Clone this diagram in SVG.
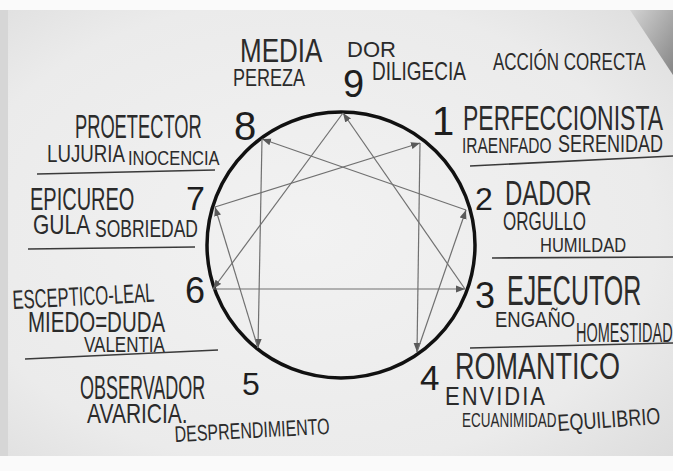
<svg xmlns="http://www.w3.org/2000/svg" width="673" height="471" viewBox="0 0 673 471">
<defs>
<radialGradient id="paper" cx="0.45" cy="0.5" r="0.75">
<stop offset="0" stop-color="#f2f2f2"/>
<stop offset="0.7" stop-color="#ebebeb"/>
<stop offset="1" stop-color="#dcdcdc"/>
</radialGradient>
<linearGradient id="corner" x1="0" y1="0" x2="1" y2="1">
<stop offset="0" stop-color="#d0d0d0"/>
<stop offset="1" stop-color="#6e6e6e"/>
</linearGradient>
<marker id="arr" markerUnits="userSpaceOnUse" markerWidth="10" markerHeight="8" refX="9" refY="4" orient="auto">
<path d="M0,0.5 L9,4 L0,7.5 Z" fill="#5a5a5a"/>
</marker>
<style>
.t{font-family:"Liberation Sans",Arial,sans-serif;fill:#2b2b2b;}
.n{font-family:"Liberation Sans",Arial,sans-serif;fill:#1e1e1e;}
.c{stroke:#707070;stroke-width:1.2;fill:none;marker-end:url(#arr);}
.d{stroke:#3a3a3a;stroke-width:1.6;fill:none;}
</style>
</defs>
<rect x="0" y="0" width="673" height="471" fill="#fafafa"/>
<rect x="6" y="10" width="667" height="446" fill="url(#paper)"/>
<polygon points="630,10 673,10 673,75" fill="url(#corner)" opacity="0.8"/>
<rect x="0" y="10" width="8" height="446" fill="#d6d6d6"/>

<ellipse id="circle" cx="341" cy="245" rx="134" ry="133" fill="none" stroke="#111" stroke-width="3.5"/>

<g id="connectors">
<line class="c" x1="343" y1="113" x2="213" y2="289"/>
<line class="c" x1="213" y1="289" x2="465" y2="289"/>
<line class="c" x1="465" y1="289" x2="343" y2="113"/>
<line class="c" x1="420" y1="143" x2="417" y2="352"/>
<line class="c" x1="417" y1="352" x2="466" y2="210"/>
<line class="c" x1="466" y1="210" x2="262" y2="139"/>
<line class="c" x1="262" y1="139" x2="258" y2="348"/>
<line class="c" x1="258" y1="348" x2="215" y2="207"/>
<line class="c" x1="215" y1="207" x2="420" y2="143"/>
</g>

<g id="dividers">
<line class="d" x1="470" y1="166" x2="673" y2="156"/>
<line class="d" x1="37" y1="174" x2="215" y2="170"/>
<line class="d" x1="28" y1="249" x2="195" y2="247"/>
<line class="d" x1="492" y1="258" x2="673" y2="257"/>
<line class="d" x1="25" y1="359" x2="218" y2="350"/>
<line class="d" x1="470" y1="348" x2="673" y2="343"/>
</g>

<g id="node-9">
<text class="t" x="240" y="62" font-size="26" transform="matrix(1,0,0,1.3,0,-18.6)">MEDIA</text>
<text class="t" x="347" y="57" font-size="22">DOR</text>
<text class="t" x="233" y="86" font-size="18" transform="matrix(1,0,0,1.35,0,-30.1)">PEREZA</text>
<text class="n" x="343" y="97" font-size="38">9</text>
<text class="t" x="372" y="80" font-size="19" transform="matrix(1,0,0,1.4,0,-32)">DILIGECIA</text>
<text class="t" x="493" y="70" font-size="17" transform="matrix(1,0,0,1.4,0,-28)">ACCIÓN CORECTA</text>
</g>

<g id="node-1">
<text class="n" x="432" y="135" font-size="40">1</text>
<text class="t" x="463" y="130" font-size="23" transform="matrix(1,0,0,1.5,0,-65)">PERFECCIONISTA</text>
<text class="t" x="462" y="153" font-size="15.5" transform="matrix(1,0,0,1.4,0,-61.2)">IRAENFADO</text>
<text class="t" x="558" y="152" font-size="18" transform="matrix(1,0,0,1.3,0,-45.6)">SERENIDAD</text>
</g>

<g id="node-2">
<text class="n" x="475" y="210" font-size="32">2</text>
<text class="t" x="505" y="205" font-size="24" transform="matrix(1,0,0,1.5,0,-102.5)">DADOR</text>
<text class="t" x="503" y="230" font-size="17" transform="matrix(1,0,0,1.5,0,-115)">ORGULLO</text>
<text class="t" x="540" y="252" font-size="16.5" transform="matrix(1,0,0,1.25,0,-63)">HUMILDAD</text>
</g>

<g id="node-3">
<text class="n" x="475" y="308" font-size="36">3</text>
<text class="t" x="507" y="305" font-size="25" transform="matrix(1,0,0,1.7,0,-213.5)">EJECUTOR</text>
<text class="t" x="495" y="327" font-size="18.5" transform="matrix(1,0,0,1.2,0,-65.4)">ENGAÑO</text>
<text class="t" x="576" y="342" font-size="14.5" transform="matrix(1,0,0,1.9,0,-307.8)">HOMESTIDAD</text>
</g>

<g id="node-4">
<text class="n" x="420" y="390" font-size="35">4</text>
<text class="t" x="455" y="379" font-size="27" transform="matrix(1,0,0,1.4,0,-151.6)">ROMANTICO</text>
<text class="t" x="445" y="405" font-size="22" letter-spacing="2" transform="matrix(1,0,0,1.2,0,-81)">ENVIDIA</text>
<text class="t" x="462" y="427" font-size="13.5" transform="matrix(1,0,0,1.5,0,-213.5)">ECUANIMIDAD</text>
<text class="t" x="558" y="431" font-size="18" transform="rotate(-4 558 431) matrix(1,0,0,1.3,0,-129.3)">EQUILIBRIO</text>
</g>

<g id="node-5">
<text class="n" x="242" y="395" font-size="32">5</text>
<text class="t" x="80" y="399" font-size="18" transform="matrix(1,0,0,1.8,0,-319.2)">OBSERVADOR</text>
<text class="t" x="87" y="423" font-size="21" transform="matrix(1,0,0,1.3,0,-126.9)">AVARICIA.</text>
<text class="t" x="175" y="442" font-size="16" transform="rotate(-3 175 442) matrix(1,0,0,1.4,0,-176.8)">DESPRENDIMIENTO</text>
</g>

<g id="node-6">
<text class="n" x="185" y="303" font-size="36">6</text>
<text class="t" x="13" y="309" font-size="16.6" transform="rotate(-3 13 309) matrix(1,0,0,1.6,0,-185.4)">ESCEPTICO-LEAL</text>
<text class="t" x="28" y="332" font-size="20.5" transform="matrix(1,0,0,1.4,0,-132.8)">MIEDO=DUDA</text>
<text class="t" x="84" y="352" font-size="17" transform="matrix(1,0,0,1.25,0,-88)">VALENTIA</text>
</g>

<g id="node-7">
<text class="n" x="186" y="210" font-size="34">7</text>
<text class="t" x="30" y="210" font-size="20" transform="matrix(1,0,0,1.6,0,-126)">EPICUREO</text>
<text class="t" x="33" y="234" font-size="21" transform="matrix(1,0,0,1.3,0,-70.2)">GULA</text>
<text class="t" x="95" y="237" font-size="17.5" transform="matrix(1,0,0,1.4,0,-94.8)">SOBRIEDAD</text>
</g>

<g id="node-8">
<text class="n" x="234" y="140" font-size="40">8</text>
<text class="t" x="75" y="138" font-size="18.3" transform="matrix(1,0,0,1.8,0,-110.4)">PROETECTOR</text>
<text class="t" x="47" y="162" font-size="18.7" transform="matrix(1,0,0,1.25,0,-40.5)">LUJURIA</text>
<text class="t" x="128" y="165" font-size="16.5" transform="matrix(1,0,0,1.25,0,-41.25)">INOCENCIA</text>
</g>
</svg>
